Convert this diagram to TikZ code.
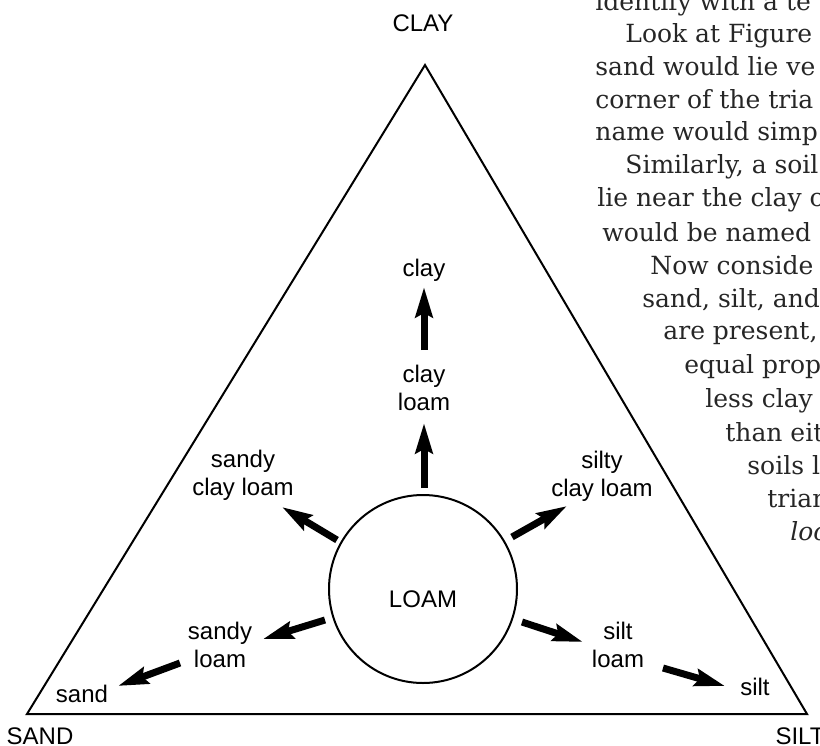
\documentclass[tikz,border=0pt]{standalone}
\usepackage{fontspec}
\setmainfont{Liberation Sans}
\newfontfamily\bookfont{DejaVu Serif}
\usetikzlibrary{arrows.meta,calc}
\begin{document}
\begin{tikzpicture}[x=0.5pt,y=-0.5pt,
  lbl/.style={font=\fontsize{12pt}{14pt}\selectfont, align=center, inner sep=0pt},
  one/.style={font=\fontsize{12pt}{14pt}\selectfont, inner sep=0pt, anchor=base},
  arr/.style={line width=3.5pt, -{Stealth[length=15pt,width=8.5pt,inset=2pt]}},
  side/.style={line width=1pt, line join=miter},
  book/.style={font=\bookfont\fontsize{12.5pt}{15pt}\selectfont, anchor=base west, inner sep=0pt, text=black!85}]
\useasboundingbox (0,0) rectangle (820,745);
\clip (0,0) rectangle (820,745);

% background page text
\node[book] (t1)  at (595,10)  {identify with a te};
\node[book] (t2)  at (625,42)  {Look at Figure};
\node[book] (t3)  at (595,75)  {sand would lie ve};
\node[book] (t4)  at (595,108) {corner of the tria};
\node[book] (t5)  at (595,140) {name would simp};
\node[book] (t6)  at (625,173) {Similarly, a soil};
\node[book] (t7)  at (597,206) {lie near the clay c};
\node[book] (t8)  at (602,241) {would be named};
\node[book] (t9)  at (650,274) {Now conside};
\node[book] (t10) at (642,307) {sand, silt, and};
\node[book] (t11) at (663,339) {are present,};
\node[book] (t12) at (684,373) {equal prop};
\node[book] (t13) at (705,407) {less clay};
\node[book] (t14) at (725,441) {than eit};
\node[book] (t15) at (747,474) {soils l};
\node[book] (t16) at (767,507) {trian};
\node[book] (t17) at (790,540) {\itshape loo};

% triangle
\coordinate (apex) at (425,65);
\coordinate (bl) at (27,714);
\coordinate (br) at (807,714);
\draw[side] (apex) -- (bl) -- (br) -- cycle;

% corner names
\node[one] (CLAY) at (423,31) {CLAY};
\node[one] (SAND) at (40,744) {SAND};
\node[one] (SILT) at (800,744) {SILT};

% loam circle
\node[circle, draw, line width=1pt, minimum size=94pt, inner sep=0pt] (loam) at (423,589) {};
\node[one] (loamtxt) at (423,607) {LOAM};

% labels
\node[lbl] (cl)  at (424,388) {clay\\loam};
\node[one] (clay) at (424,276) {clay};
\node[lbl] (scl) at (243,475) {sandy\\clay loam};
\node[lbl] (sicl) at (602,476) {silty\\clay loam};
\node[lbl] (sl)  at (220,645) {sandy\\loam};
\node[lbl] (sil) at (618,645) {silt\\loam};
\node[one] (sand) at (82,702) {sand};
\node[one] (silt) at (755,695) {silt};

% arrows
\draw[arr] ($(loam)+(1,-101)$) -- ($(loam)+(1,-166)$);
\draw[arr] ($(cl)+(0,-38)$) -- ($(cl)+(0,-101)$);
\draw[arr] ($(loam)+(-86,-49)$) -- ($(loam)+(-141,-82)$);
\draw[arr] ($(loam)+(89,-52)$) -- ($(loam)+(144,-83)$);
\draw[arr] ($(loam)+(-98,31)$) -- ($(loam)+(-160,50)$);
\draw[arr] ($(loam)+(99,33)$) -- ($(loam)+(160,53)$);
\draw[arr] ($(sl)+(-40,18)$) -- ($(sl)+(-102,41)$);
\draw[arr] ($(sil)+(45,23)$) -- ($(sil)+(107,41)$);
\end{tikzpicture}
\end{document}
